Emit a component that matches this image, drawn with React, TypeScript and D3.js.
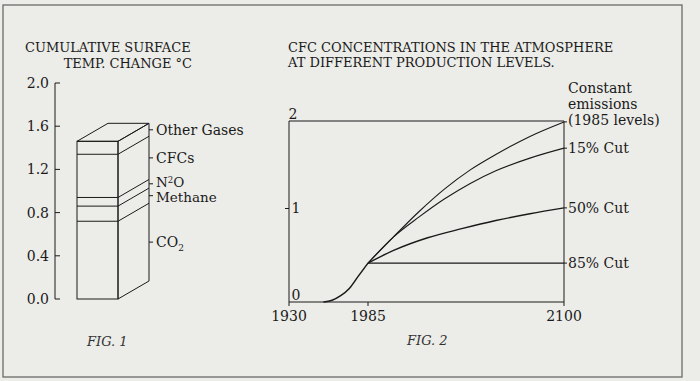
import React from "react";
import * as d3 from "d3";

// ---------- FIG. 1 data ----------
const fig1Layers = ["CO2", "Methane", "N2O", "CFCs", "Other Gases"];
const fig1Values = [0.72, 0.14, 0.08, 0.4, 0.12];
const fig1Ticks = [0, 0.4, 0.8, 1.2, 1.6, 2.0];

// ---------- FIG. 2 data ----------
const fig2XTicks = [1930, 1985, 2100];
const fig2YTicks = [0, 1, 2];
const baseYears = [1954, 1960, 1966, 1972, 1978, 1985];
const baseVals = [0, 0.02, 0.07, 0.15, 0.28, 0.43];
const constYears = [1985, 2000, 2015, 2030, 2045, 2060, 2080, 2100];
const constVals = [0.43, 0.72, 1.0, 1.25, 1.46, 1.63, 1.83, 1.99];
const cut15Years = [1985, 2000, 2015, 2030, 2045, 2060, 2080, 2100];
const cut15Vals = [0.43, 0.72, 0.94, 1.14, 1.31, 1.45, 1.59, 1.7];
const cut50Years = [1985, 2000, 2020, 2040, 2060, 2080, 2100];
const cut50Vals = [0.43, 0.57, 0.71, 0.81, 0.9, 0.975, 1.04];
const cut85Years = [1985, 2100];
const cut85Vals = [0.43, 0.43];
const scenarioLabels = ["15% Cut", "50% Cut", "85% Cut"];
const constLabel = ["Constant", "emissions", "(1985 levels)"];

const FONT = "'DejaVu Serif', serif";
const INK = "#1a1a1a";
const BG = "#ecece8";

export default function App() {
  const W = 700, H = 381;

  // FIG 1 scales
  const y1 = d3.scaleLinear().domain([0, 2]).range([299, 83]);
  const axis1X = 55;
  const barL = 77, barR = 118, dx = 31, dy = -18;
  const cum: number[] = [];
  fig1Values.reduce((acc, v) => { cum.push(acc + v); return acc + v; }, 0);
  const top = cum[cum.length - 1];

  // FIG 2 scales
  const x2 = d3.scaleLinear().domain([1930, 1985, 2100]).range([289, 368, 564]);
  const y2 = d3.scaleLinear().domain([0, 2]).range([302, 121]);
  const line = d3.line<[number, number]>().x(d => x2(d[0])).y(d => y2(d[1])).curve(d3.curveMonotoneX);
  const mk = (ys: number[], vs: number[]) => line(ys.map((y, i) => [y, vs[i]] as [number, number])) || "";
  const branches = [
    { ys: constYears, vs: constVals },
    { ys: cut15Years, vs: cut15Vals },
    { ys: cut50Years, vs: cut50Vals },
    { ys: cut85Years, vs: cut85Vals },
  ];
  const ends = [cut15Vals[cut15Vals.length - 1], cut50Vals[cut50Vals.length - 1], cut85Vals[cut85Vals.length - 1]];
  const constEnd = constVals[constVals.length - 1];

  const labelNudge: Record<string, number> = { N2O: -2, Methane: 1.5 };
  const renderLayerLabel = (name: string) => {
    if (name === "CO2") return (<>CO<tspan fontSize="9" dy="4">2</tspan></>);
    if (name === "N2O") return (<>N<tspan fontSize="8.5" dy="-4">2</tspan><tspan dy="4">O</tspan></>);
    return name;
  };

  return (
    <svg width={W} height={H} style={{ position: "absolute", left: 0, top: 0, display: "block" }} fontFamily={FONT}>
      <rect x={0} y={0} width={W} height={H} fill={BG} />
      <rect x={3} y={5} width={679} height={372} fill="none" stroke="#6a6a6a" strokeWidth={1.3} />

      {/* ---------- FIG 1 ---------- */}
      <text x={25} y={52} fontSize={13} fill={INK}>CUMULATIVE SURFACE</text>
      <text x={192} y={68} fontSize={13} fill={INK} textAnchor="end">TEMP. CHANGE °C</text>
      <line x1={axis1X} x2={axis1X} y1={y1(2)} y2={y1(0)} stroke={INK} strokeWidth={1} />
      {fig1Ticks.map(t => (
        <g key={t}>
          <line x1={axis1X} x2={axis1X + 5} y1={y1(t)} y2={y1(t)} stroke={INK} strokeWidth={1} />
          <text x={49} y={y1(t)} dy="0.36em" fontSize={14} textAnchor="end" fill={INK}>{t.toFixed(1)}</text>
        </g>
      ))}
      {/* bar */}
      <g fill="none" stroke={INK} strokeWidth={1}>
        <rect x={barL} y={y1(top)} width={barR - barL} height={y1(0) - y1(top)} />
        <polygon points={`${barL},${y1(top)} ${barL + dx},${y1(top) + dy} ${barR + dx},${y1(top) + dy} ${barR},${y1(top)}`} />
        <polygon points={`${barR},${y1(top)} ${barR + dx},${y1(top) + dy} ${barR + dx},${y1(0) + dy} ${barR},${y1(0)}`} />
        {cum.slice(0, -1).map((c, i) => (
          <g key={i}>
            <line x1={barL} x2={barR} y1={y1(c)} y2={y1(c)} />
            <line x1={barR} x2={barR + dx} y1={y1(c)} y2={y1(c) + dy} />
          </g>
        ))}
      </g>
      {fig1Layers.map((name, i) => {
        const lo = i === 0 ? 0 : cum[i - 1];
        const yy = y1((lo + cum[i]) / 2) + dy;
        const ty = yy + (labelNudge[name] || 0);
        return (
          <g key={name}>
            <line x1={barR + dx} x2={barR + dx + 4} y1={yy} y2={yy} stroke={INK} strokeWidth={1} />
            <text x={barR + dx + 7} y={ty} dy="0.36em" fontSize={name === "N2O" || name === "Methane" ? 13.5 : 14} fill={INK}>{renderLayerLabel(name)}</text>
          </g>
        );
      })}
      <text x={87} y={346} fontSize={13} fontStyle="italic" fill="#333">FIG. 1</text>

      {/* ---------- FIG 2 ---------- */}
      <text x={288} y={52} fontSize={13} fill={INK}>CFC CONCENTRATIONS IN THE ATMOSPHERE</text>
      <text x={288} y={67} fontSize={13} fill={INK}>AT DIFFERENT PRODUCTION LEVELS.</text>
      <g fill="none" stroke={INK} strokeWidth={1}>
        <line x1={x2(1930)} x2={x2(1930)} y1={y2(2)} y2={y2(0)} />
        <line x1={x2(2100)} x2={x2(2100)} y1={y2(2)} y2={y2(0)} />
        <line x1={x2(1930)} x2={x2(2100)} y1={y2(2)} y2={y2(2)} />
        <line x1={x2(1930)} x2={x2(2100)} y1={y2(0)} y2={y2(0)} />
        {fig2XTicks.map(t => (
          <line key={t} x1={x2(t)} x2={x2(t)} y1={y2(0)} y2={y2(0) + 4} />
        ))}
        <line x1={x2(1930) - 4} x2={x2(1930)} y1={y2(1) - 3} y2={y2(1) - 3} />
      </g>
      {fig2XTicks.map(t => (
        <text key={t} x={x2(t)} y={y2(0) + 19} fontSize={14} textAnchor="middle" fill={INK}>{t}</text>
      ))}
      {fig2YTicks.map(t => (
        <text key={t} x={x2(1930) + (t === 2 ? 4 : 7)} y={t === 0 ? y2(0) - 2 : t === 1 ? y2(1) + 1 : y2(2) - 2}
          fontSize={14} textAnchor="middle" fill={INK}>{t}</text>
      ))}
      <g fill="none" stroke={INK}>
        <path d={mk(baseYears, baseVals)} strokeWidth={1.5} />
        {branches.map((b, i) => (
          <path key={i} d={mk(b.ys, b.vs)} strokeWidth={i === 2 ? 1.4 : 1.1} />
        ))}
        {[constEnd, ...ends].map((v, i) => (
          <line key={i} x1={x2(2100)} x2={x2(2100) + 3} y1={y2(v)} y2={y2(v)} strokeWidth={1} />
        ))}
      </g>
      {constLabel.map((s, i) => (
        <text key={s} x={568} y={y2(constEnd) - 2 - (2 - i) * 16} dy="0.36em" fontSize={14} fill={INK}>{s}</text>
      ))}
      {scenarioLabels.map((s, i) => (
        <text key={s} x={568} y={y2(ends[i])} dy="0.36em" fontSize={14} fill={INK}>{s}</text>
      ))}
      <text x={407} y={345} fontSize={13} fontStyle="italic" fill="#333">FIG. 2</text>
    </svg>
  );
}
